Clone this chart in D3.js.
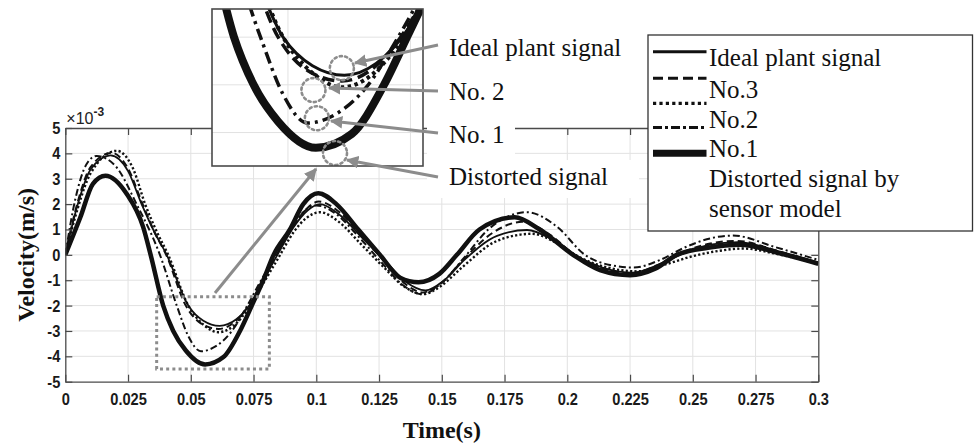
<!DOCTYPE html>
<html><head><meta charset="utf-8">
<script src="https://cdn.jsdelivr.net/npm/d3@7"></script>
<style>body{margin:0;background:#fff} svg{display:block}</style>
</head><body><svg id="c" width="974" height="448"></svg>
<script>
// ---------- data ----------
const xTicks = [0,0.025,0.05,0.075,0.1,0.125,0.15,0.175,0.2,0.225,0.25,0.275,0.3];
const xTickLabels = ["0","0.025","0.05","0.075","0.1","0.125","0.15","0.175","0.2","0.225","0.25","0.275","0.3"];
const yTicks = [-5,-4,-3,-2,-1,0,1,2,3,4,5];
const yTickLabels = ["-5","-4","-3","-2","-1","0","1","2","3","4","5"];
const insetXTicks = [0.05,0.075];
const insetYTicks = [-2,-3,-4];

// [time (s), velocity (x1e-3 m/s)]
const idealSignal = [[0,0],[0.005,2.0],[0.010,3.35],[0.018,3.92],[0.025,3.3],[0.0304,2.0],[0.0355,0.9],[0.0404,0],[0.049,-2],[0.055,-2.6],[0.0615,-2.8],[0.068,-2.55],[0.074,-1.9],[0.0795,-0.9],[0.0845,0],[0.091,1.1],[0.0965,1.75],[0.1015,2.0],[0.109,1.6],[0.1185,0.65],[0.128,-0.3],[0.1355,-1.05],[0.1435,-1.4],[0.151,-1.0],[0.159,-0.2],[0.172,0.75],[0.184,0.98],[0.194,0.6],[0.203,0],[0.214,-0.5],[0.226,-0.7],[0.236,-0.4],[0.246,0.05],[0.257,0.4],[0.268,0.5],[0.284,0.15],[0.3,-0.3]];
const no3Signal = [[0,0],[0.005,2.1],[0.010,3.45],[0.0185,4.02],[0.025,3.4],[0.0304,2.1],[0.0355,0.9],[0.0402,0],[0.048,-2],[0.054,-2.7],[0.061,-2.92],[0.068,-2.6],[0.074,-1.85],[0.0795,-0.85],[0.0845,0.05],[0.091,1.15],[0.0965,1.85],[0.101,2.1],[0.109,1.7],[0.1185,0.7],[0.128,-0.35],[0.1355,-1.15],[0.1425,-1.48],[0.15,-1.1],[0.158,-0.25],[0.17,0.85],[0.182,1.3],[0.193,0.8],[0.203,0],[0.214,-0.55],[0.2255,-0.72],[0.236,-0.4],[0.246,0.1],[0.257,0.45],[0.2675,0.55],[0.284,0.15],[0.3,-0.32]];
const no2Signal = [[0,0],[0.005,1.85],[0.010,3.2],[0.0205,4.1],[0.027,3.4],[0.0318,2.0],[0.0365,0.9],[0.041,0],[0.049,-2],[0.055,-2.75],[0.061,-3.05],[0.067,-2.8],[0.073,-2.1],[0.079,-1.1],[0.085,-0.1],[0.091,0.9],[0.096,1.45],[0.1015,1.68],[0.109,1.3],[0.118,0.4],[0.127,-0.5],[0.135,-1.25],[0.1425,-1.55],[0.15,-1.2],[0.158,-0.5],[0.172,0.55],[0.186,0.83],[0.196,0.45],[0.205,-0.1],[0.216,-0.5],[0.228,-0.65],[0.24,-0.35],[0.25,-0.05],[0.26,0.15],[0.27,0.25],[0.285,0.0],[0.3,-0.35]];
const dashDotSignal = [[0,0],[0.004,2.2],[0.0085,3.58],[0.0125,3.9],[0.02,3.5],[0.0284,2.0],[0.0377,0],[0.0444,-2],[0.049,-3.2],[0.054,-3.8],[0.06,-3.6],[0.066,-3.05],[0.0725,-2.0],[0.078,-1.0],[0.084,0],[0.09,1.05],[0.095,1.7],[0.1,1.95],[0.108,1.6],[0.117,0.7],[0.126,-0.3],[0.134,-1.15],[0.142,-1.55],[0.15,-1.1],[0.159,-0.1],[0.1685,1.0],[0.184,1.68],[0.196,1.1],[0.207,0],[0.217,-0.4],[0.2265,-0.5],[0.237,-0.2],[0.247,0.3],[0.257,0.65],[0.266,0.76],[0.283,0.3],[0.3,-0.2]];
const no1Signal = [[0,0],[0.006,1.48],[0.011,2.8],[0.016,3.12],[0.0245,2.4],[0.031,1.1],[0.034,0],[0.039,-2],[0.043,-3],[0.048,-3.77],[0.0557,-4.32],[0.063,-4.03],[0.0696,-3],[0.0743,-2],[0.0789,-1],[0.083,0],[0.0895,1],[0.0948,2],[0.1008,2.43],[0.108,2],[0.1167,1],[0.1254,0],[0.1334,-0.9],[0.1407,-1.08],[0.149,-0.75],[0.156,0],[0.165,1],[0.179,1.48],[0.189,1.0],[0.2023,0],[0.213,-0.6],[0.225,-0.8],[0.235,-0.55],[0.2436,0],[0.256,0.28],[0.2688,0.4],[0.285,0.05],[0.3,-0.35]];

const legendLabels = ["Ideal plant signal","No.3","No.2","No.1","Distorted signal by","sensor model"];
const annotationLabels = ["Ideal plant signal","No. 2","No. 1","Distorted signal"];
// zoom window shown in the inset (time range, velocity range)
const zoomWindowT = [0.0364,0.0813];
const zoomWindowV = [-1.65,-4.5];
// highlighted points inside the inset [t, v]
const insetCircles = [[0.0610,-2.65],[0.0552,-3.11],[0.0559,-3.70],[0.0596,-4.43]];

// ---------- styles ----------
const series = [
  {data:no2Signal, dash:"2.2,2.2", w:2.4, iw:4, idash:"3.5,3.5"},
  {data:dashDotSignal, dash:"7,3,2,3", w:2, iw:3.5, idash:"12,5,3,5"},
  {data:no3Signal, dash:"7,4", w:2, iw:3.5, idash:"12,6"},
  {data:idealSignal, dash:null, w:1.8, iw:3, idash:null},
  {data:no1Signal, dash:null, w:4.5, iw:8, idash:null}
];

const svg = d3.select("#c");
const L=65.3, R=818.3, T=128, B=381.7;
const x = d3.scaleLinear().domain([0,0.3]).range([L,R]);
const y = d3.scaleLinear().domain([-5,5]).range([B,T]);
const ink = "#111";
const gridC = "#e2e2e2";
const spineC = "#4a4a4a";
const grayA = "#8c8c8c";

const defs = svg.append("defs");
defs.append("clipPath").attr("id","plotClip").append("rect").attr("x",L).attr("y",T).attr("width",R-L).attr("height",B-T);
defs.append("marker").attr("id","arr").attr("viewBox","0 0 10 10").attr("refX",9).attr("refY",5)
  .attr("markerWidth",4.2).attr("markerHeight",4.2).attr("markerUnits","strokeWidth").attr("orient","auto")
  .append("path").attr("d","M0,0 L10,5 L0,10 z").attr("fill",grayA);

// grid
const g = svg.append("g");
g.selectAll(".vg").data(xTicks.slice(1,-1)).join("line").attr("x1",d=>x(d)).attr("x2",d=>x(d)).attr("y1",T).attr("y2",B).attr("stroke",gridC).attr("stroke-width",1);
g.selectAll(".hg").data(yTicks.slice(1,-1)).join("line").attr("x1",L).attr("x2",R).attr("y1",d=>y(d)).attr("y2",d=>y(d)).attr("stroke",gridC).attr("stroke-width",1);

// curves
const line = d3.line().x(d=>x(d[0])).y(d=>y(d[1])).curve(d3.curveMonotoneX);
const cg = svg.append("g").attr("clip-path","url(#plotClip)");
series.forEach(s=>{
  cg.append("path").attr("d",line(s.data)).attr("fill","none").attr("stroke",ink)
    .attr("stroke-width",s.w).attr("stroke-dasharray",s.dash).attr("stroke-linejoin","round");
});

// axes
const fontTick = "bold 17px 'Liberation Sans', Arial, sans-serif";
function styleAxis(sel){
  sel.selectAll(".domain").attr("stroke",spineC).attr("stroke-width",1.3);
  sel.selectAll(".tick line").attr("stroke",spineC).attr("stroke-width",1.2);
  sel.selectAll(".tick text").style("font",fontTick).attr("fill","#1a1a1a").each(function(){
    const w = this.getComputedTextLength();
    if (w>0) { d3.select(this).attr("textLength",w*0.86).attr("lengthAdjust","spacingAndGlyphs"); }
  });
}
const fmtX = d=>xTickLabels[xTicks.indexOf(d)];
const fmtY = d=>yTickLabels[yTicks.indexOf(d)];
svg.append("g").attr("transform",`translate(0,${B})`).call(d3.axisBottom(x).tickValues(xTicks).tickFormat(fmtX).tickSizeInner(-7).tickSizeOuter(0).tickPadding(11)).call(styleAxis);
svg.append("g").attr("transform",`translate(0,${T})`).call(d3.axisTop(x).tickValues(xTicks).tickFormat("").tickSizeInner(-7).tickSizeOuter(0)).call(styleAxis);
svg.append("g").attr("transform",`translate(${L},0)`).call(d3.axisLeft(y).tickValues(yTicks).tickFormat(fmtY).tickSizeInner(-7).tickSizeOuter(0).tickPadding(5)).call(styleAxis);
svg.append("g").attr("transform",`translate(${R},0)`).call(d3.axisRight(y).tickValues(yTicks).tickFormat("").tickSizeInner(-7).tickSizeOuter(0)).call(styleAxis);

// exponent
const ex = svg.append("text").attr("x",L+1).attr("y",T-4).attr("fill","#222").style("font","16px 'Liberation Sans', Arial, sans-serif");
ex.append("tspan").text("×10");
ex.append("tspan").attr("dy",-8).style("font-size","12px").style("font-weight","bold").text("-3");

// axis titles
svg.append("text").attr("transform",`translate(26,${(T+B)/2}) rotate(-90)`).attr("text-anchor","middle").attr("dominant-baseline","central")
  .style("font","bold 24px 'Liberation Serif', 'Times New Roman', serif").attr("fill","#111").text("Velocity(m/s)");
svg.append("text").attr("x",(L+R)/2).attr("y",438).attr("text-anchor","middle")
  .style("font","bold 24px 'Liberation Serif', 'Times New Roman', serif").attr("fill","#111").text("Time(s)");

// dotted zoom window
svg.append("rect").attr("x",x(zoomWindowT[0])).attr("y",y(zoomWindowV[0]))
  .attr("width",x(zoomWindowT[1])-x(zoomWindowT[0])).attr("height",y(zoomWindowV[1])-y(zoomWindowV[0]))
  .attr("fill","none").attr("stroke",grayA).attr("stroke-width",3).attr("stroke-dasharray","3,3.2");

// inset
const IL=212, IR=423, IT=9, IB=166;
const xi = d3.scaleLinear().domain([0.0345,0.0345+(IR-IL)/4900]).range([IL,IR]);
const yi = d3.scaleLinear().domain([-1.41,-1.41-(IB-IT)/47.7]).range([IT,IB]);
defs.append("clipPath").attr("id","insetClip").append("rect").attr("x",IL).attr("y",IT).attr("width",IR-IL).attr("height",IB-IT);
svg.append("rect").attr("x",IL).attr("y",IT).attr("width",IR-IL).attr("height",IB-IT).attr("fill","#fff");
const ig = svg.append("g").attr("clip-path","url(#insetClip)");
ig.selectAll(".ivg").data(insetXTicks).join("line").attr("x1",d=>xi(d)).attr("x2",d=>xi(d)).attr("y1",IT).attr("y2",IB).attr("stroke",gridC);
ig.selectAll(".ihg").data(insetYTicks).join("line").attr("x1",IL).attr("x2",IR).attr("y1",d=>yi(d)).attr("y2",d=>yi(d)).attr("stroke",gridC);
const iline = d3.line().x(d=>xi(d[0])).y(d=>yi(d[1])).curve(d3.curveMonotoneX);
series.forEach(s=>{
  ig.append("path").attr("d",iline(s.data)).attr("fill","none").attr("stroke",ink)
    .attr("stroke-width",s.iw).attr("stroke-dasharray",s.idash).attr("stroke-linejoin","round");
});
ig.selectAll(".circ").data(insetCircles).join("circle").attr("cx",d=>xi(d[0])).attr("cy",d=>yi(d[1])).attr("r",12)
  .attr("fill","none").attr("stroke",grayA).attr("stroke-width",2.6).attr("stroke-dasharray","2.2,3.2").attr("stroke-linecap","round");
svg.append("rect").attr("x",IL).attr("y",IT).attr("width",IR-IL).attr("height",IB-IT).attr("fill","none").attr("stroke",spineC).attr("stroke-width",1.6);

// arrow from zoom window to inset
svg.append("line").attr("x1",215).attr("y1",293).attr("x2",316).attr("y2",169)
  .attr("stroke",grayA).attr("stroke-width",3).attr("marker-end","url(#arr)");

// annotation labels
const annFont = "25px 'Liberation Serif', 'Times New Roman', serif";
const annY = [56,100,143,185];
const annArrowStart = [[438,45],[438,91],[438,133],[438,177]];
const annArrowEnd = [[355,63],[329,88],[331,121],[347,160]];
// white boxes behind labels (hide axes lines as in source)
svg.append("rect").attr("x",427).attr("y",112).attr("width",88).attr("height",48).attr("fill","#fff");
svg.append("rect").attr("x",427).attr("y",160).attr("width",212).attr("height",38).attr("fill","#fff");
annotationLabels.forEach((t,i)=>{
  svg.append("text").attr("x",449).attr("y",annY[i]).style("font",annFont).attr("fill","#111").text(t);
  svg.append("line").attr("x1",annArrowStart[i][0]).attr("y1",annArrowStart[i][1]).attr("x2",annArrowEnd[i][0]).attr("y2",annArrowEnd[i][1])
    .attr("stroke",grayA).attr("stroke-width",3).attr("marker-end","url(#arr)");
});

// legend
svg.append("rect").attr("x",648).attr("y",35).attr("width",324.5).attr("height",196).attr("fill","#fff").attr("stroke","#333").attr("stroke-width",1.3);
const legLines = [
  {y:51.7, w:3, dash:null},
  {y:78.3, w:3, dash:"10,5"},
  {y:103.3, w:3.2, dash:"3.2,3.2"},
  {y:127.5, w:3, dash:"9,3,3,3"},
  {y:153.3, w:7, dash:null}
];
legLines.forEach(l=>{
  svg.append("line").attr("x1",653).attr("x2",706.5).attr("y1",l.y).attr("y2",l.y).attr("stroke",ink).attr("stroke-width",l.w).attr("stroke-dasharray",l.dash);
});
const legY = [66,97.5,127.5,157,187,217];
legendLabels.forEach((t,i)=>{
  svg.append("text").attr("x",709).attr("y",legY[i]).style("font",annFont).attr("fill","#111").text(t);
});
</script></body></html>
